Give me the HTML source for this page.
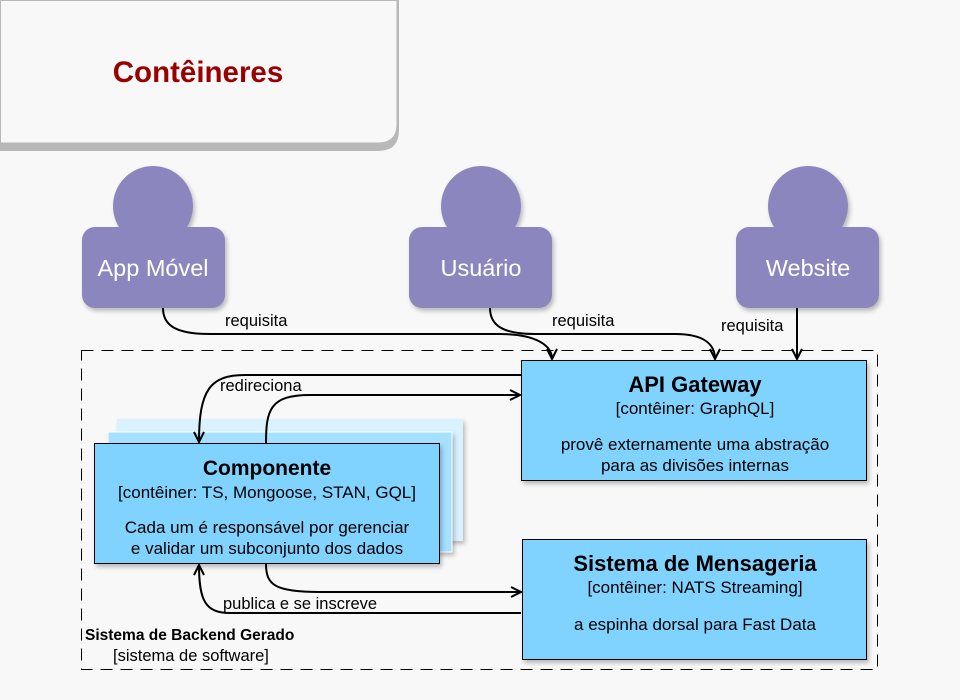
<!DOCTYPE html>
<html><head><meta charset="utf-8"><style>
html,body{margin:0;padding:0;background:#f8f8f8;}
svg{display:block;font-family:"Liberation Sans",sans-serif;}
</style></head><body>
<svg width="960" height="700" viewBox="0 0 960 700" xmlns="http://www.w3.org/2000/svg">
<defs>
<filter id="sh" x="-10%" y="-10%" width="130%" height="130%"><feDropShadow dx="2" dy="3" stdDeviation="2" flood-color="#000" flood-opacity="0.25"/></filter>
<marker id="ar" viewBox="0 0 12 12" refX="11" refY="6" markerWidth="12" markerHeight="12" markerUnits="userSpaceOnUse" orient="auto"><path d="M1,1 L11,6 L1,11" fill="none" stroke="#000" stroke-width="2"/></marker>
</defs>
<rect width="960" height="700" fill="#f8f8f8"/>
<!-- title -->
<path d="M-2,-2 H399 V130 Q399,151 378,151 H-2 Z" fill="#b8b8b8"/>
<path d="M0.5,0.5 H397 V124 Q397,143 378,143 H0.5 Z" fill="#f8f8f8" stroke="#b8b8b8" stroke-width="1"/>
<text x="198" y="82" text-anchor="middle" font-size="29.5" font-weight="bold" fill="#990000">Contêineres</text>
<!-- persons -->
<g fill="#8c86bf" filter="url(#sh)">
<circle cx="153" cy="206" r="40"/><rect x="82" y="227" width="143" height="81" rx="13"/>
<circle cx="481" cy="206" r="40"/><rect x="409" y="227" width="143" height="81" rx="13"/>
<circle cx="808" cy="206" r="40"/><rect x="736" y="227" width="143" height="81" rx="13"/>
</g>
<g fill="#fff" font-size="23.5" text-anchor="middle">
<text x="153" y="276">App Móvel</text>
<text x="481" y="276">Usuário</text>
<text x="808" y="276">Website</text>
</g>
<!-- boundary -->
<rect x="81.5" y="350.5" width="796" height="319" fill="none" stroke="#000" stroke-width="1" stroke-dasharray="12,8"/>
<text x="85" y="640" font-size="15.5" font-weight="bold">Sistema de Backend Gerado</text>
<text x="113" y="661" font-size="16.5">[sistema de software]</text>
<!-- component stack -->
<rect x="117" y="419" width="346" height="122" fill="#d9f2ff" filter="url(#sh)"/>
<rect x="108" y="432" width="344" height="120" fill="#a6e0ff" stroke="#fff" stroke-width="1" filter="url(#sh)"/>
<rect x="94.5" y="443.5" width="345" height="120" fill="#80d3ff" stroke="#000" stroke-width="1" filter="url(#sh)"/>
<text x="267" y="475" text-anchor="middle" font-size="21" font-weight="bold">Componente</text>
<text x="267" y="498" text-anchor="middle" font-size="17">[contêiner: TS, Mongoose, STAN, GQL]</text>
<text x="267" y="533" text-anchor="middle" font-size="17">Cada um é responsável por gerenciar</text>
<text x="267" y="554" text-anchor="middle" font-size="17">e validar um subconjunto dos dados</text>
<!-- API -->
<rect x="521.5" y="360.5" width="345" height="120" fill="#80d3ff" stroke="#000" stroke-width="1" filter="url(#sh)"/>
<text x="695" y="392" text-anchor="middle" font-size="22" font-weight="bold">API Gateway</text>
<text x="695" y="414" text-anchor="middle" font-size="17">[contêiner: GraphQL]</text>
<text x="695" y="450" text-anchor="middle" font-size="17">provê externamente uma abstração</text>
<text x="695" y="471" text-anchor="middle" font-size="17">para as divisões internas</text>
<!-- Mensageria -->
<rect x="522.5" y="539.5" width="344" height="120" fill="#80d3ff" stroke="#000" stroke-width="1" filter="url(#sh)"/>
<text x="695" y="571" text-anchor="middle" font-size="22" font-weight="bold">Sistema de Mensageria</text>
<text x="695" y="593" text-anchor="middle" font-size="17">[contêiner: NATS Streaming]</text>
<text x="695" y="630" text-anchor="middle" font-size="17">a espinha dorsal para Fast Data</text>
<!-- arrows -->
<g fill="none" stroke="#000" stroke-width="2">
<path d="M163,308 C163,325 175,334 210,334 L500,334 C535,334 552,345 552,359" marker-end="url(#ar)"/>
<path d="M490,308 C490,325 502,334 535,334 L675,334 C705,334 715,345 715,359" marker-end="url(#ar)"/>
<path d="M797,308 L797,359" marker-end="url(#ar)"/>
<path d="M521,375 L245,375 C210,375 199,390 199,442" marker-end="url(#ar)"/>
<path d="M266,443 C266,410 270,395 310,395 L520,395" marker-end="url(#ar)"/>
<path d="M266,564 C266,585 275,592 320,592 L521,592" marker-end="url(#ar)"/>
<path d="M521,613 L230,613 C205,613 199,600 199,565" marker-end="url(#ar)"/>
</g>
<g font-size="16.5">
<text x="225" y="326">requisita</text>
<text x="552" y="326">requisita</text>
<text x="721" y="331">requisita</text>
<text x="220" y="391">redireciona</text>
<text x="223" y="609">publica e se inscreve</text>
</g>
</svg>
</body></html>
